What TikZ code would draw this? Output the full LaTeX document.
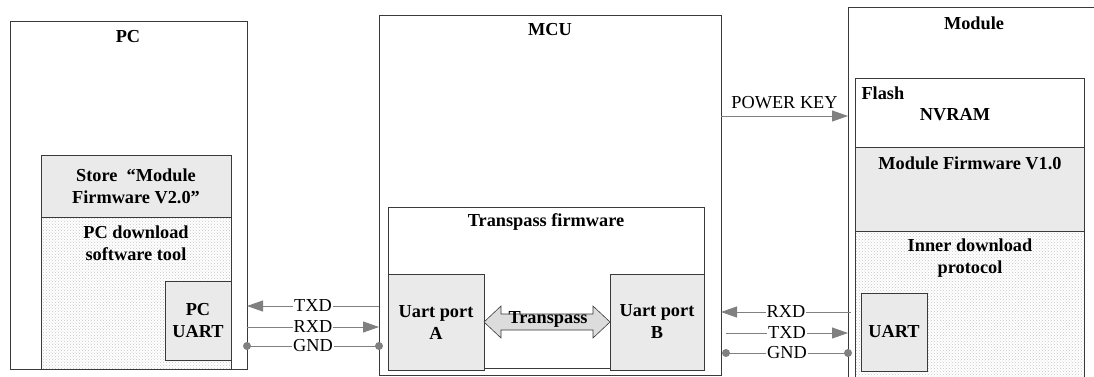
\documentclass[tikz,border=0pt]{standalone}
\usepackage{fontspec}
\setmainfont{Liberation Serif}
\usetikzlibrary{arrows.meta,calc,patterns}

\definecolor{edge}{HTML}{3A3A3A}
\definecolor{wirec}{HTML}{808080}
\definecolor{panel}{HTML}{EAEAEA}
\definecolor{arrowfill}{HTML}{DCDCDC}

\begin{document}
\begin{tikzpicture}[x=1pt,y=-1pt,
  every node/.style={font=\fontsize{18.3}{22}\selectfont},
  box/.style={draw=edge, line width=0.8pt, anchor=north west, inner sep=0pt, outer sep=0pt},
  speckled/.style={pattern=crosshatch dots, pattern color=gray!45},
  title/.style={font=\fontsize{18.3}{22}\selectfont\bfseries, align=center},
  wire/.style={draw=wirec, line width=0.9pt},
  tip/.style={-{Triangle[length=16pt,width=11pt]}},
  tag/.style={fill=white, inner sep=1pt, text=black},
  dot/.style={circle, fill=wirec, inner sep=0pt, minimum size=8pt}
]
\useasboundingbox (0,0) rectangle (1094,376);
\clip (0,0) rectangle (1094,376);

% ---------- PC ----------
\node[box, minimum width=237, minimum height=348] (pc) at (10,21) {};
\node[box, fill=panel, minimum width=190, minimum height=62] (store) at (41,155) {};
\node[box, speckled, minimum width=190, minimum height=152] (pcdl) at (41,217) {};
\node[box, fill=panel, minimum width=66, minimum height=79] (pcuart) at (165,281) {};
\node[title] at (128,37) {PC};
\node[title] at (136,186) {Store\hspace{0.5em}“Module\\Firmware V2.0”};
\node[title] at (136,243) {PC download\\software tool};
\node[title] at (pcuart.center) {PC\\UART};

% ---------- MCU ----------
\node[box, minimum width=342, minimum height=360] (mcu) at (379,15) {};
\node[box, minimum width=316, minimum height=161] (tfw) at (388,207) {};
\node[box, fill=panel, minimum width=96, minimum height=96] (ua) at (388,274) {};
\node[box, fill=panel, minimum width=94, minimum height=96] (ub) at (610,274) {};
\node[title] at (550,30) {MCU};
\node[title] at (546,222) {Transpass firmware};
\node[title] at (ua.center) {Uart port\\A};
\node[title] at (ub.center) {Uart port\\B};

% double arrow between the two UART ports
\draw[fill=arrowfill, draw=edge, line width=0.6pt]
  (ua.east) -- ++(17,-16) -- ++(0,8) -- ($(ub.west)+(-17,-8)$) -- ++(0,-8)
  -- (ub.west) -- ++(-17,16) -- ++(0,-8) -- ($(ua.east)+(17,8)$) -- ++(0,8) -- cycle;
\node[title] at ($($(ua.east)!0.5!(ub.west)$)+(1,-3)$) {Transpass};

% ---------- Module ----------
\node[box, minimum width=300, minimum height=400] (module) at (848,7) {};
\node[box, minimum width=229, minimum height=69] (nvram) at (855,78) {};
\node[box, fill=panel, minimum width=229, minimum height=84] (mfw) at (855,147) {};
\node[box, speckled, minimum width=229, minimum height=160] (inner) at (855,231) {};
\node[box, fill=panel, minimum width=66, minimum height=78] (uart) at (861,293) {};
\node[title] at (974,23) {Module};
\node[title, anchor=west] at (858,93) {Flash};
\node[title] at (955,115) {NVRAM};
\node[title] at (970,163) {Module Firmware V1.0};
\node[title] at (970,258) {Inner download\\protocol};
\node[title] at (uart.center) {UART};

% ---------- PC <-> MCU port A ----------
\draw[wire, tip] (mcu.west |- 0,306) -- node[tag]{TXD} (pc.east |- 0,306);
\draw[wire, tip] (pc.east |- 0,327) -- node[tag]{RXD} (mcu.west |- 0,327);
\draw[wire] (pc.east |- 0,346) node[dot]{} -- node[tag]{GND} (mcu.west |- 0,346) node[dot]{};

% ---------- MCU port B <-> Module ----------
\draw[wire, tip] (mcu.east |- 0,116) -- node[above=3pt, text=black]{POWER KEY} (module.west |- 0,116);
\draw[wire, tip] ($(module.west |- 0,312)+(3,0)$) -- node[tag]{RXD} (mcu.east |- 0,312);
\draw[wire, tip] ($(mcu.east |- 0,333)+(5,0)$) -- node[tag]{TXD} (module.west |- 0,333);
\draw[wire] ($(mcu.east |- 0,353)+(5,0)$) node[dot]{} -- node[tag]{GND} (module.west |- 0,353) node[dot]{};
\end{tikzpicture}
\end{document}
